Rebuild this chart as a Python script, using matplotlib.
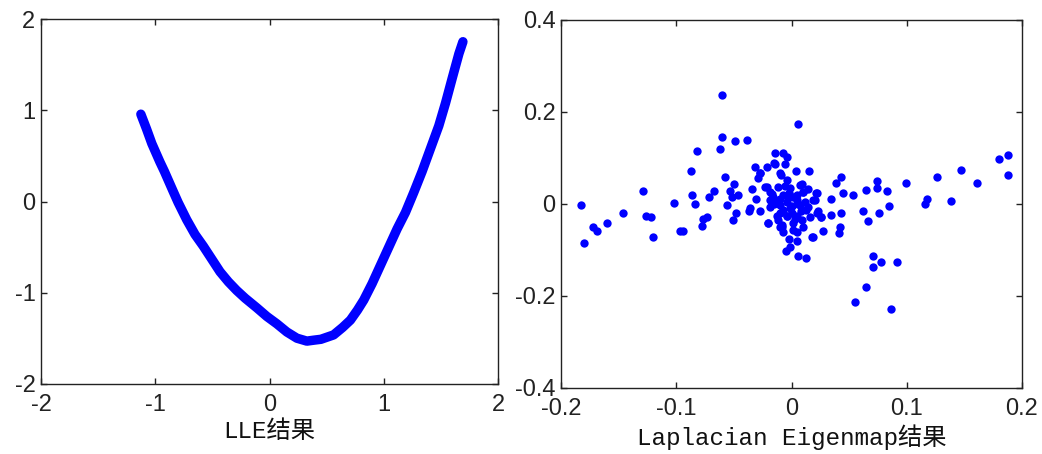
import matplotlib
matplotlib.use("Agg")
import matplotlib.pyplot as plt

# ---- Left panel: LLE result (points along the embedded curve) ----
lle_x = [-1.126, -1.076, -1.030, -0.959, -0.920, -0.842, -0.800, -0.725, -0.652,
         -0.579, -0.506, -0.433, -0.360, -0.287, -0.213, -0.111, -0.023, 0.064,
         0.152, 0.240, 0.327, 0.386, 0.450, 0.561, 0.640, 0.708, 0.770, 0.825,
         0.898, 0.971, 1.044, 1.117, 1.190, 1.263, 1.336, 1.409, 1.482, 1.541,
         1.599, 1.658, 1.693]
lle_y = [0.957, 0.794, 0.635, 0.433, 0.330, 0.108, -0.010, -0.199, -0.361,
         -0.490, -0.630, -0.770, -0.880, -0.975, -1.060, -1.165, -1.260, -1.340,
         -1.430, -1.498, -1.530, -1.520, -1.510, -1.462, -1.380, -1.300, -1.190,
         -1.080, -0.900, -0.700, -0.500, -0.300, -0.120, 0.100, 0.330, 0.580,
         0.830, 1.080, 1.350, 1.620, 1.751]

# ---- Right panel: Laplacian Eigenmap result ----
le_x = [-0.183, -0.180, -0.1725, -0.169, -0.160, -0.146, -0.129, -0.126, -0.122,
        -0.120, -0.102, -0.097, -0.094, -0.087, -0.086, -0.084, -0.082, -0.078,
        -0.077, -0.073, -0.072, -0.067, -0.062, -0.060, -0.060, -0.058, -0.056,
        -0.053, -0.052, -0.051, -0.0495, -0.049, -0.048, -0.046, -0.039, -0.037,
        -0.036, -0.034, -0.032, -0.031, -0.029, -0.027, -0.027, -0.021, -0.020,
        -0.021, -0.0185, -0.014, -0.015, -0.007, -0.004, -0.009, 0.004, 0.006,
        0.015, 0.009, 0.010, 0.021, 0.020, 0.023, 0.026, 0.027, 0.019, 0.018,
        0.013, 0.006, -0.005, -0.001, 0.005, -0.002, 0.005, -0.010, 0.034,
        0.034, 0.039, 0.043, 0.043, 0.045, 0.042, 0.041, 0.053, 0.055, 0.062,
        0.065, 0.066, 0.065, 0.0705, 0.0705, 0.074, 0.074, 0.076, 0.0775, 0.083,
        0.0845, 0.086, 0.0915, 0.099, 0.116, 0.1175, 0.126, 0.138, 0.147, 0.161,
        0.180, 0.188, 0.188,
        # dense central cluster
        -0.014, -0.006, -0.027, -0.010, -0.004, -0.023, 0.0074, 0.010, 0.022,
        -0.016, -0.007, 0.0016, 0.019, -0.019, -0.010, -0.0013, 0.0074, 0.013,
        0.022, 0.026, -0.020, -0.0085, 0.0016, 0.010, -0.004, -0.013, -0.004,
        0.0045, -0.007, -0.014, -0.0115, -0.0013, -0.019, 0.0045, 0.0146,
        -0.004, -0.010, 0.000, 0.009, -0.007, 0.0016,
        -0.015, -0.010, 0.005, 0.012, -0.002, 0.000, 0.008, -0.012, 0.003,
        -0.006, 0.016, -0.017, 0.014, -0.003, 0.006, -0.008]
le_y = [-0.003, -0.085, -0.051, -0.059, -0.042, -0.020, 0.028, -0.025, -0.029,
        -0.072, 0.002, -0.059, -0.059, 0.071, 0.020, 0.001, 0.115, -0.047,
        -0.033, -0.029, 0.015, 0.028, 0.119, 0.237, 0.146, 0.058, -0.003,
        0.029, 0.016, -0.034, 0.043, 0.136, -0.020, 0.020, 0.140, -0.016,
        -0.008, 0.033, 0.080, 0.010, 0.056, 0.067, -0.015, 0.081, -0.042,
        0.036, 0.009, 0.110, 0.090, 0.110, 0.103, 0.063, 0.072, 0.175,
        0.072, 0.043, 0.026, 0.025, 0.009, -0.015, -0.028, -0.059, -0.072, -0.072,
        -0.117, -0.112, -0.102, -0.093, -0.080, -0.077, -0.060, -0.051, 0.010,
        -0.024, 0.045, 0.058, -0.020, 0.025, -0.051, -0.064, 0.019, -0.212, -0.016,
        0.030, -0.037, -0.181, -0.112, -0.138, 0.050, 0.035, -0.020, -0.125, 0.028,
        -0.004, -0.229, -0.125, 0.045, 0.001, 0.011, 0.058, 0.006, 0.075, 0.045,
        0.097, 0.106, 0.063,
        # dense central cluster
        0.088, 0.088, 0.067, 0.067, 0.052, 0.038, 0.041, 0.027, 0.023,
        0.016, 0.020, 0.016, 0.009, -0.006, -0.002, -0.009, -0.002, -0.013,
        -0.020, -0.028, -0.042, -0.049, -0.042, -0.049, -0.027, -0.027, -0.027,
        -0.027, -0.013, 0.009, 0.038, 0.034, 0.027, 0.009, -0.006,
        0.005, -0.020, -0.020, -0.035, -0.060, -0.056,
        0.000, 0.010, 0.020, 0.005, 0.025, -0.005, -0.015, -0.035, -0.032,
        0.040, -0.028, 0.022, 0.032, 0.015, 0.000, -0.045]

lle_xticks = [-2, -1, 0, 1, 2]
lle_yticks = [-2, -1, 0, 1, 2]
le_xticks = [-0.2, -0.1, 0, 0.1, 0.2]
le_yticks = [-0.4, -0.2, 0, 0.2, 0.4]
le_xticklabels = ["-0.2", "-0.1", "0", "0.1", "0.2"]
le_yticklabels = ["-0.4", "-0.2", "0", "0.2", "0.4"]
titles = ["LLE结果", "Laplacian Eigenmap结果"]

BLUE = (0, 0, 1)
tick_font = {"family": ["Liberation Sans", "DejaVu Sans"], "size": 17}
label_family = ["Liberation Mono", "Noto Sans CJK SC", "DejaVu Sans"]

fig = plt.figure(figsize=(10.42, 4.54), dpi=100)
ax1 = fig.add_axes([41 / 1042, 1 - 384 / 454, 457 / 1042, 365 / 454])
ax2 = fig.add_axes([561 / 1042, 1 - 388 / 454, 461 / 1042, 368 / 454])

ax1.plot(lle_x, lle_y, color=BLUE, lw=6.8, solid_capstyle="round",
         solid_joinstyle="round")
ax1.set_xlim(-2, 2)
ax1.set_ylim(-2, 2)
ax1.set_xticks(lle_xticks)
ax1.set_yticks(lle_yticks)
ax1.set_xticklabels([str(t) for t in lle_xticks], fontdict=tick_font)
ax1.set_yticklabels([str(t) for t in lle_yticks], fontdict=tick_font)

ax2.scatter(le_x, le_y, s=36, color=BLUE, linewidths=0, zorder=3)
ax2.set_xlim(-0.2, 0.2)
ax2.set_ylim(-0.4, 0.4)
ax2.set_xticks(le_xticks)
ax2.set_yticks(le_yticks)
ax2.set_xticklabels(le_xticklabels, fontdict=tick_font)
ax2.set_yticklabels(le_yticklabels, fontdict=tick_font)

for ax, t in zip((ax1, ax2), titles):
    for sp in ax.spines.values():
        sp.set_linewidth(1.0)
        sp.set_color("#222222")
    ax.tick_params(direction="in", length=4, width=1, top=True, right=True,
                   pad=4, colors="#222222")
    ax.tick_params(axis="x", pad=7)
    ax.set_xlabel(t, family=label_family, fontsize=17.5, labelpad=3, color="#111111")

fig.savefig("out.png", dpi=100)
